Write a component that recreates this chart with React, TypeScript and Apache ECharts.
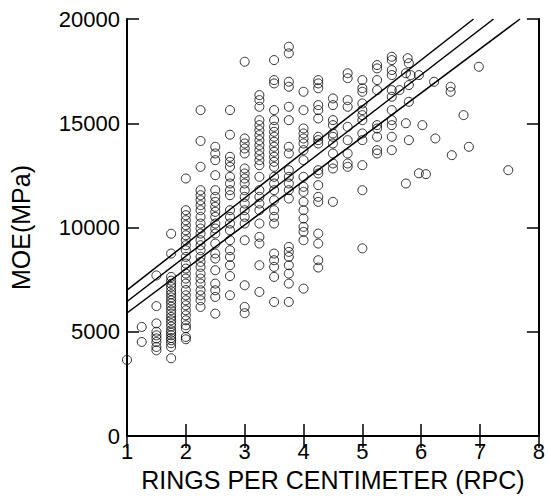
import React, { useEffect, useRef } from "react";
import * as echarts from "echarts";

// RPC column positions and MOE values (MPa)
const col100 = [3650];
const col125 = [5230, 4510];
const col150 = [7700, 6230, 5400, 5000, 4830, 4680, 4510, 4270, 4110];
const col175 = [9700, 8750, 7630, 7450, 7300, 7150, 6950, 6800, 6650, 6500, 6360, 6200, 6030, 5870, 5710, 5550, 5400, 5250, 5070, 4950, 4830, 4700, 4590, 4450, 4270, 3730];
const col200 = [12350, 10830, 10590, 10350, 10110, 9870, 9630, 9390, 9150, 8910, 8590, 8270, 8030, 7790, 7550, 7310, 7000, 6750, 6510, 6270, 6030, 5790, 5550, 5310, 5170, 4750, 4640];
const col225 = [15630, 14150, 12910, 11790, 11550, 11310, 11070, 10830, 10510, 10190, 9950, 9710, 9390, 9150, 8910, 8590, 8350, 8110, 7790, 7550, 7310, 6990, 6750, 6510, 6190];
const col250 = [13870, 13550, 13230, 12510, 11790, 11470, 11230, 10990, 10750, 10510, 10190, 9950, 9710, 9230, 8750, 8510, 7950, 7310, 6990, 6670, 5870];
const col275 = [15630, 14450, 13390, 13150, 12910, 12430, 12110, 11790, 11550, 10830, 10510, 10190, 9870, 9390, 8910, 8590, 8190, 7670, 6750];
const col300 = [17950, 14270, 14030, 13790, 13550, 12830, 12590, 12350, 12110, 11790, 11470, 11150, 10830, 10510, 10190, 9390, 7230, 6190, 5890];
const col325 = [16350, 16110, 15790, 15150, 14910, 14670, 14430, 14190, 13950, 13710, 13470, 13230, 12990, 12430, 11790, 11470, 11150, 10830, 10190, 9550, 9230, 8190, 6910];
const col350 = [18030, 17070, 16910, 15630, 15150, 14830, 14590, 14350, 14110, 13870, 13630, 13390, 13150, 12910, 12430, 12110, 11790, 11310, 10830, 10510, 10190, 8750, 8430, 8110, 7630, 6430];
const col375 = [18670, 18350, 16990, 16750, 15790, 15150, 13870, 13550, 12750, 12430, 12110, 11790, 11390, 9070, 8830, 8590, 8190, 7790, 7310, 6430];
const col400 = [16510, 15630, 14750, 14510, 14270, 14030, 13710, 13230, 12430, 11950, 11710, 11230, 10830, 10430, 10030, 9790, 9390, 7070];
const col425 = [17070, 16910, 16680, 15870, 15630, 15230, 14350, 14190, 14030, 12750, 12590, 12030, 11470, 11230, 9710, 9230, 8430, 8080];
const col450 = [16190, 15870, 15150, 14910, 14510, 14350, 14030, 13550, 13070, 12830, 11230];
const col475 = [17400, 17160, 16110, 15790, 14830, 14190, 13550, 13070, 12910];
const col500 = [17070, 16680, 16510, 15950, 15630, 15390, 15150, 14510, 14190, 12990, 11790, 9000];
const col525 = [17790, 17630, 17070, 16590, 14910, 14750, 14350, 13710, 13550];
const col550 = [18190, 18030, 17550, 17310, 16590, 16270, 15630, 15150, 14910, 14350, 13710];

const columnRpc = [1.0, 1.25, 1.5, 1.75, 2.0, 2.25, 2.5, 2.75, 3.0, 3.25, 3.5, 3.75, 4.0, 4.25, 4.5, 4.75, 5.0, 5.25, 5.5];
const columnMoe = [col100, col125, col150, col175, col200, col225, col250, col275, col300, col325, col350, col375, col400, col425, col450, col475, col500, col525, col550];

// scattered points on the right side [RPC, MOE]
const loosePoints: [number, number][] = [
  [5.77, 18120], [5.79, 17880], [5.74, 17400], [5.82, 17310], [5.96, 17310], [5.79, 16830],
  [5.63, 16590], [5.79, 16030], [5.74, 15000], [6.02, 14910], [5.79, 14190], [6.22, 16990],
  [6.24, 14270], [6.5, 16750], [6.5, 16510], [6.72, 15390], [6.52, 13470], [6.81, 13870],
  [5.96, 12600], [6.08, 12560], [5.74, 12110], [6.98, 17710], [7.48, 12750],
];

// regression line and its two bounding lines: [RPC, MOE] end points
const upperLine: [number, number][] = [[1, 7000], [6.89, 20000]];
const fitLine: [number, number][] = [[1, 6450], [7.23, 20000]];
const lowerLine: [number, number][] = [[1, 5900], [7.68, 20000]];

const FONT = "Liberation Sans, Arial, Helvetica, sans-serif";

export default function App() {
  const ref = useRef<HTMLDivElement>(null);
  useEffect(() => {
    if (!ref.current) return;
    const chart = echarts.init(ref.current, undefined, { renderer: "svg" });
    const pts: [number, number][] = [];
    columnRpc.forEach((x, i) => columnMoe[i].forEach((y) => pts.push([x, y])));
    loosePoints.forEach((p) => pts.push(p));

    const axisLine = { show: true, lineStyle: { color: "#000", width: 2 } };
    const axisTick = { show: true, inside: true, length: 12, lineStyle: { color: "#000", width: 1.5 } };
    const label = { color: "#000", fontSize: 22, fontFamily: FONT };
    const nameStyle = { color: "#000", fontSize: 25, fontFamily: FONT };

    const lineSeries = (data: [number, number][]) => ({
      type: "line",
      data,
      symbol: "none",
      lineStyle: { color: "#000", width: 1.5 },
      z: 1,
    });

    chart.setOption({
      animation: false,
      backgroundColor: "#fff",
      grid: { left: 126, right: 7, top: 19, bottom: 68 },
      xAxis: [
        {
          type: "value", min: 1, max: 8, interval: 1, position: "bottom",
          axisLine, axisTick, splitLine: { show: false },
          axisLabel: { ...label, margin: 4 },
          name: "RINGS PER CENTIMETER (RPC)", nameLocation: "middle", nameGap: 31,
          nameTextStyle: nameStyle,
        },
        {
          type: "value", min: 1, max: 8, interval: 1, position: "top",
          axisLine, axisTick, splitLine: { show: false }, axisLabel: { show: false },
        },
      ],
      yAxis: [
        {
          type: "value", min: 0, max: 20000, interval: 5000, position: "left",
          axisLine, axisTick, splitLine: { show: false },
          axisLabel: { ...label, margin: 7, formatter: (v: number) => String(v) },
          name: "MOE(MPa)", nameLocation: "middle", nameGap: 94, nameRotate: 90,
          nameTextStyle: nameStyle,
        },
        {
          type: "value", min: 0, max: 20000, interval: 5000, position: "right",
          axisLine, axisTick, splitLine: { show: false }, axisLabel: { show: false },
        },
      ],
      series: [
        lineSeries(upperLine),
        lineSeries(fitLine),
        lineSeries(lowerLine),
        {
          type: "scatter",
          data: pts,
          symbol: "circle",
          symbolSize: 9,
          itemStyle: { color: "rgba(255,255,255,0)", borderColor: "#000", borderWidth: 1 },
          z: 2,
        },
      ],
    });
    return () => chart.dispose();
  }, []);
  return (
    <div
      ref={ref}
      style={{ position: "fixed", left: 0, top: 0, width: 548, height: 504 }}
    />
  );
}
